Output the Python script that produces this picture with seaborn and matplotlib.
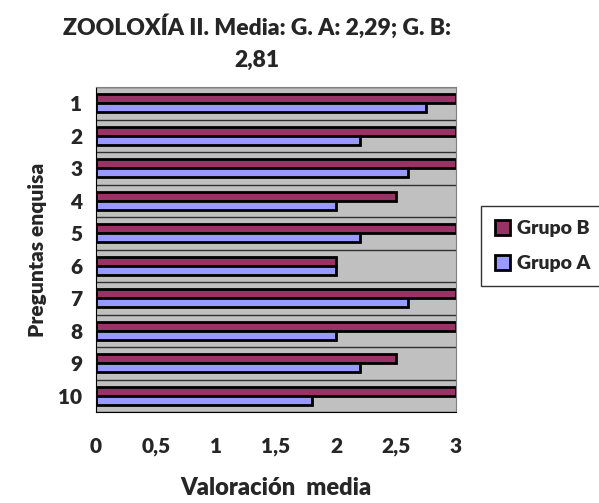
import pandas as pd
import numpy as np
import seaborn as sns
import matplotlib.pyplot as plt
from matplotlib.ticker import FixedLocator

# ----------------------------
# Data
# ----------------------------
preguntas = ["1", "2", "3", "4", "5", "6", "7", "8", "9", "10"]
grupo_b = [3.0, 3.0, 3.0, 2.5, 3.0, 2.0, 3.0, 3.0, 2.5, 3.0]
grupo_a = [2.75, 2.2, 2.6, 2.0, 2.2, 2.0, 2.6, 2.0, 2.2, 1.8]
x_ticks = [0, 0.5, 1, 1.5, 2, 2.5, 3]
x_tick_labels = ["0", "0,5", "1", "1,5", "2", "2,5", "3"]

df = pd.DataFrame({
    "Pregunta": preguntas * 2,
    "Valor": grupo_b + grupo_a,
    "Grupo": ["Grupo B"] * len(preguntas) + ["Grupo A"] * len(preguntas),
})

# ----------------------------
# Plot
# ----------------------------
sns.set_style("white")
plt.rcParams["font.family"] = ["Lato", "DejaVu Sans"]
W = "heavy"

fig = plt.figure(figsize=(5.99, 5.03), dpi=100)
ax = fig.add_axes([96 / 599, 1 - 412 / 503, 360 / 599, 325 / 503])
ax.set_facecolor("#C0C0C0")

sns.barplot(data=df, x="Valor", y="Pregunta", hue="Grupo",
            hue_order=["Grupo B", "Grupo A"],
            palette={"Grupo B": "#993366", "Grupo A": "#9999FF"},
            orient="h", width=0.56, edgecolor="black", linewidth=2,
            saturation=1, ax=ax)

ax.set_xlim(0, 3)
ax.set_ylim(9.5, -0.5)
ax.set_xticks(x_ticks)
ax.set_xticklabels(x_tick_labels, fontsize=15, fontweight=W)
ax.tick_params(axis="x", direction="out", length=6, width=1, color="black", pad=12)
ax.tick_params(axis="y", which="major", length=0, labelsize=15, pad=10)
ax.yaxis.set_minor_locator(FixedLocator(np.arange(-0.5, 10, 1)))
ax.tick_params(axis="y", which="minor", direction="out", length=6, width=1, color="black")
ax.grid(axis="y", which="minor", color="#303030", linewidth=1)
ax.set_axisbelow(True)
for lbl in ax.get_yticklabels():
    lbl.set_fontweight(W)

for side in ["top", "right"]:
    ax.spines[side].set_color("#808080")
for side in ["left", "bottom"]:
    ax.spines[side].set_color("black")

ax.set_xlabel("Valoración  media", fontsize=17, fontweight=W, labelpad=15)
ax.set_ylabel("Preguntas enquisa", fontsize=15, fontweight=W, labelpad=8)

fig.text(257 / 599, 1 - 27 / 503, "ZOOLOXÍA II. Media: G. A: 2,29; G. B:",
         ha="center", va="center", fontsize=16.5, fontweight=W)
fig.text(257 / 599, 1 - 60 / 503, "2,81",
         ha="center", va="center", fontsize=16.5, fontweight=W)

ax.legend(loc="center left", bbox_to_anchor=(481 / 599, 1 - 246 / 503),
          bbox_transform=fig.transFigure, frameon=True, fancybox=False,
          edgecolor="black", handlelength=0.8, handleheight=0.8,
          handletextpad=0.35, labelspacing=0.9, borderpad=0.7,
          borderaxespad=0, prop={"weight": W, "size": 14})

plt.savefig("out.png", dpi=100)
plt.close()
